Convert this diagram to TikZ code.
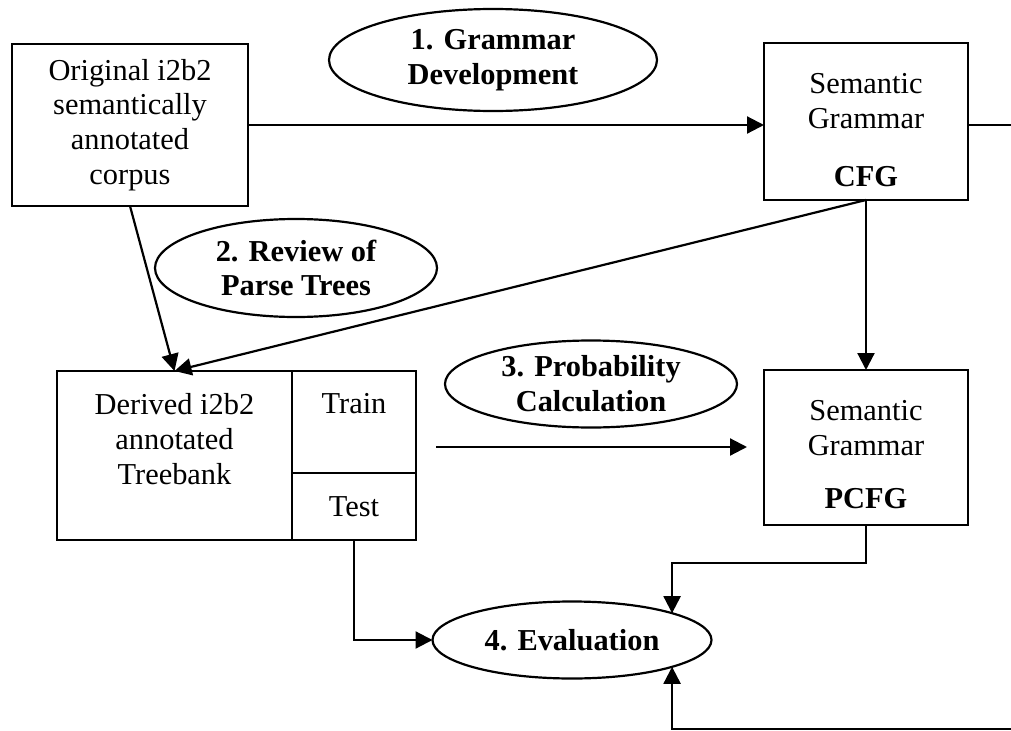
\documentclass[tikz,border=0pt]{standalone}
\usepackage{fontspec}
\setmainfont{Liberation Serif}
\usetikzlibrary{shapes.geometric, positioning, arrows.meta}

\begin{document}
\begin{tikzpicture}[x = 0.2mm, y = -0.2mm,
	font = \fontsize{17.3}{19.8}\selectfont,
	box/.style = {draw, line width = 1.25pt, inner sep = 0pt, outer sep = 0pt, align = center},
	txt/.style = {inner sep = 0pt, align = center},
	oval/.style = {ellipse, draw, line width = 1.25pt, inner sep = 0pt, outer sep = 0pt, align = center, font = \fontsize{17.3}{19.8}\selectfont\bfseries},
	arr/.style = {line width = 1.25pt, -{Triangle[length = 3.4mm, width = 3.4mm]}}]
	\useasboundingbox (0, 0) rectangle (1011, 731);
	\clip (0, 0) rectangle (1011, 731);
	
	\node[box, minimum width = 47.2mm, minimum height = 32.4mm] (orig) at (130, 125) {Original i2b2\\semantically\\annotated\\corpus};
	
	\node[box, minimum width = 40.8mm, minimum height = 31.4mm] (cfg) at (866, 121.5) {};
	\node[txt, below = 6mm of cfg.north] (cfgname) {Semantic\\Grammar};
	\node[txt, above = 2.6mm of cfg.south] (cfgtag) {\textbf{CFG}};
	
	\node[box, minimum width = 40.8mm, minimum height = 31mm] (pcfg) at (866, 447.5) {};
	\node[txt, below = 6mm of pcfg.north] (pcfgname) {Semantic\\Grammar};
	\node[txt, above = 3.2mm of pcfg.south] (pcfgtag) {\textbf{PCFG}};
	
	\node[box, minimum width = 47mm, minimum height = 33.8mm] (derived) at (174.5, 455.5) {};
	\node[txt, below = 4.4mm of derived.north] (derivedname) {Derived i2b2\\annotated\\Treebank};
	\node[box, minimum width = 24.8mm, minimum height = 20.4mm, anchor = north west] (train) at (derived.north east) {};
	\node[txt, below = 4.4mm of train.north] (trainname) {Train};
	\node[box, minimum width = 24.8mm, minimum height = 13.4mm, anchor = north west] (test) at (train.south west) {Test};
	
	\node[oval, minimum width = 65.6mm, minimum height = 20.4mm] (dev) at (493, 60) {1. Grammar\\Development};
	\node[oval, minimum width = 56.4mm, minimum height = 19.6mm] (review) at (296, 268) {2. Review of\\Parse Trees};
	\node[oval, minimum width = 58.4mm, minimum height = 17.4mm] (prob) at (591, 384) {3. Probability\\Calculation};
	\node[oval, minimum width = 55.8mm, minimum height = 15.4mm] (eval) at (572, 640) {4. Evaluation};
	
	\coordinate (calcfrom) at (436, 447);
	\coordinate (calcto) at (747, 447);
	
	\draw[arr] (orig.east) -- (orig.east -| cfg.west);
	\draw[arr] (cfg.east |- orig.east) -- ++(70, 0) -- ++(0, 604) -| (eval.-15);
	\draw[arr] (orig.south) -- (derived.north);
	\draw[arr] (cfg.south) -- (derived.north);
	\draw[arr] (cfg.south) -- (pcfg.north);
	\draw[arr] (calcfrom) -- (calcto);
	\draw[arr] (pcfg.south) -- ++(0, 38) -| (eval.15);
	\draw[arr] (test.south) |- (eval.west);
\end{tikzpicture}
\end{document}
